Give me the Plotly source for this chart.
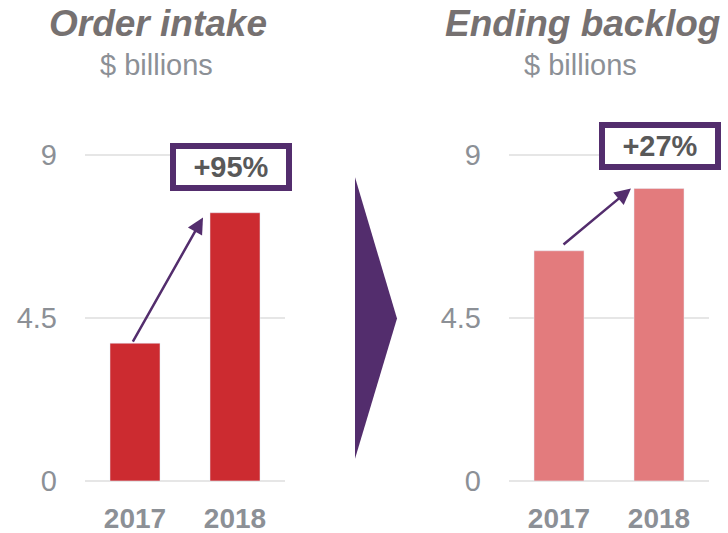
import plotly.graph_objects as go

# ---- data ----
years = ["2017", "2018"]
order_intake = [3.8, 7.4]
ending_backlog = [6.35, 8.07]
growth_labels = ["+95%", "+27%"]
panel_titles = ["Order intake", "Ending backlog"]
unit_label = "$ billions"
y_tick_vals = [0, 4.5, 9]
y_tick_text = ["0", "4.5", "9"]

# ---- styles ----
REF_W, REF_H = 728, 533      # target picture size
W, H = 728, 550              # page is captured ~550 tall and fitted into 533
FONT = "Liberation Sans, Arial, sans-serif"
RED = "#CC2B30"
PINK = "#E37B7D"
PURPLE = "#532D6D"
GRID = "#E6E6E6"
TICK = "#8C9096"
TITLE = "#767171"
BOXTXT = "#595959"


def px(x):
    return x / REF_W


def py(y):
    return 1 - y / REF_H


fig = go.Figure()
fig.add_trace(go.Bar(x=years, y=order_intake, marker_color=RED,
                     xaxis="x", yaxis="y", showlegend=False, hoverinfo="x+y"))
fig.add_trace(go.Bar(x=years, y=ending_backlog, marker_color=PINK,
                     xaxis="x2", yaxis="y2", showlegend=False, hoverinfo="x+y"))

ydom = [py(480), py(480 - 9.5 * 36.17)]
yax = dict(range=[0, 9.5], domain=ydom, tickvals=y_tick_vals, ticktext=y_tick_text,
           showgrid=True, gridcolor=GRID, gridwidth=2, zeroline=True, zerolinecolor=GRID,
           zerolinewidth=2, showline=False, ticks="", ticklabelstandoff=27,
           tickfont=dict(family=FONT, size=29, color=TICK), fixedrange=True)
xax = dict(type="category", range=[-0.5, 1.5], showgrid=False, zeroline=False,
           showline=False, ticks="", ticklabelstandoff=18,
           tickfont=dict(family=FONT, size=28, color=TICK, weight="bold"), fixedrange=True)

fig.update_layout(
    width=W, height=H,
    margin=dict(l=0, r=0, t=0, b=0),
    paper_bgcolor="white", plot_bgcolor="white",
    bargap=0.5,
    xaxis=dict(xax, domain=[px(85), px(285)], anchor="y"),
    yaxis=dict(yax, anchor="x"),
    xaxis2=dict(xax, domain=[px(509), px(709)], anchor="y2"),
    yaxis2=dict(yax, anchor="x2"),
)

# titles
for cx, title in zip([158, 582], panel_titles):
    fig.add_annotation(xref="paper", yref="paper", x=px(cx), y=py(23),
                       text=f"<b><i>{title}</i></b>", showarrow=False,
                       font=dict(family=FONT, size=37, color=TITLE),
                       xanchor="center", yanchor="middle")
for cx in [156, 580]:
    fig.add_annotation(xref="paper", yref="paper", x=px(cx), y=py(65),
                       text=unit_label, showarrow=False,
                       font=dict(family=FONT, size=29, color=TICK),
                       xanchor="center", yanchor="middle")

# growth boxes
for (cx, cy), lab in zip([(230.5, 166.5), (659.5, 146)], growth_labels):
    fig.add_annotation(xref="paper", yref="paper", x=px(cx), y=py(cy),
                       text=f"<b>{lab}</b>", showarrow=False,
                       font=dict(family=FONT, size=29, color=BOXTXT),
                       bgcolor="white", bordercolor=PURPLE, borderwidth=6, borderpad=1,
                       width=108, height=34, xanchor="center", yanchor="middle")

# growth arrows
fig.add_annotation(xref="x", yref="y", axref="x", ayref="y",
                   x=0.68, y=order_intake[1] - 0.13, ax=-0.03, ay=order_intake[0],
                   showarrow=True, arrowhead=2, arrowsize=1.3, arrowwidth=2.5,
                   arrowcolor=PURPLE, text="")
fig.add_annotation(xref="x2", yref="y2", axref="x2", ayref="y2",
                   x=0.72, y=ending_backlog[1], ax=0.03, ay=ending_backlog[0] + 0.14,
                   showarrow=True, arrowhead=2, arrowsize=1.3, arrowwidth=2.5,
                   arrowcolor=PURPLE, text="")

# chevron between panels
fig.add_shape(type="path", xref="paper", yref="paper",
              path=f"M {px(355)} {py(177)} L {px(397)} {py(318)} L {px(355)} {py(458)} Z",
              fillcolor=PURPLE, line=dict(width=0))

fig.write_html(
    "out.html",
    config={"displayModeBar": False},
    post_script="document.body.style.margin='0';document.body.style.overflow='hidden';"
                "document.documentElement.style.overflow='hidden';",
)
